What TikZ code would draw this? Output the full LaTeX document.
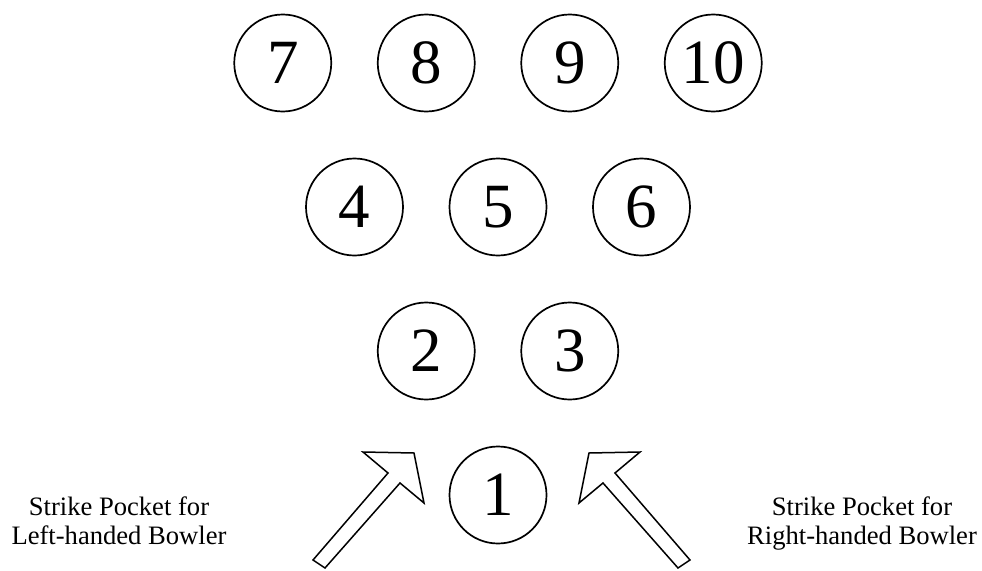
\documentclass[tikz,border=0pt]{standalone}
\usepackage{fontspec}
\setmainfont{Liberation Serif}
\begin{document}
\begin{tikzpicture}[x=1pt,y=-1pt,
  pin/.style={circle,draw,line width=1.7pt,minimum size=97pt,inner sep=0pt,
    font=\fontsize{63}{70}\selectfont},
  pocketlabel/.style={align=center,inner sep=0pt,anchor=north,
    font=\fontsize{26.6}{29}\selectfont},
  blockarrow/.style={draw,line width=1.5pt,line join=miter,fill=white}]
\path[use as bounding box] (0,0) rectangle (982,570);
% pins
\node[pin] (p7)  at (282.75,63) {7};
\node[pin] (p8)  at (426.25,63) {8};
\node[pin] (p9)  at (569.75,63) {9};
\node[pin] (p10) at (713.25,63) {10};
\node[pin] (p4)  at (354.5,207) {4};
\node[pin] (p5)  at (498,207) {5};
\node[pin] (p6)  at (641.5,207) {6};
\node[pin] (p2)  at (426.25,351) {2};
\node[pin] (p3)  at (569.75,351) {3};
\node[pin] (p1)  at (498,495) {1};
% block arrows
\draw[blockarrow] (414,453) -- (424,503) -- (400,483) -- (325,568) -- (313,560)
  -- (388,473) -- (363,452) -- cycle;
\draw[blockarrow] (589,453) -- (579,503) -- (603,483) -- (678,568) -- (690,560)
  -- (615,473) -- (640,452) -- cycle;
% labels
\node[pocketlabel] (lleft) at (119,497) {Strike Pocket for\\Left-handed Bowler};
\node[pocketlabel] (lright) at (862,497) {Strike Pocket for\\Right-handed Bowler};
\end{tikzpicture}
\end{document}
